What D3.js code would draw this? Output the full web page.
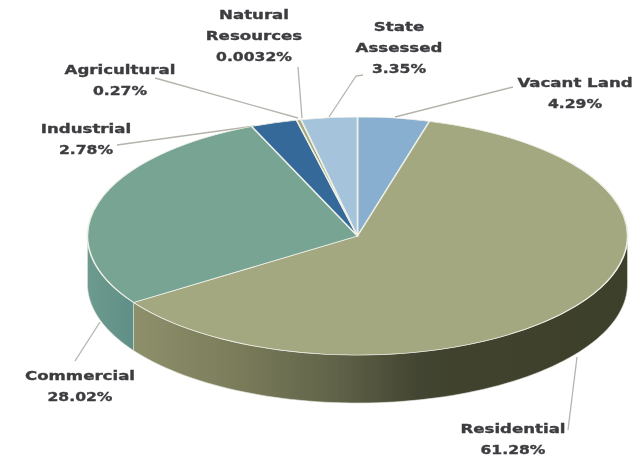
<!DOCTYPE html>
<html><head><meta charset="utf-8">
<script src="https://cdn.jsdelivr.net/npm/d3@7/dist/d3.min.js"></script>
<style>html,body{margin:0;padding:0;background:#fff}svg{display:block}</style>
</head><body><svg id="c" width="635" height="459"></svg>
<script>
// Data
const categories = ["Vacant Land","Residential","Commercial","Industrial","Agricultural","Natural Resources","State Assessed"];
const shares = [4.29,61.28,28.02,2.78,0.27,0.0032,3.35];
const shareLabels = ["4.29%","61.28%","28.02%","2.78%","0.27%","0.0032%","3.35%"];
const labelLines = [["Vacant Land"],["Residential"],["Commercial"],["Industrial"],["Agricultural"],["Natural","Resources"],["State","Assessed"]];
const topColors = ["#88aed0","#a3a880","#78a494","#35699a","#a3a880","#8a8c70","#a5c4dc"];

// Layout (separate from data)
const W=635,H=459,cx=357.5,cy=236,rx=270,ry=119,depth=48;
const labelX=[575,513,80,86,120,254,399];
const labelY=[83,429,376,129,70,15,27];
const lineStep=21;
const leaders=[
 [[513,87],[395,117]],
 [[568,430],[577,357]],
 [[75,361],[100,322]],
 [[117,145],[255,126]],
 [[155,78],[298,118]],
 [[298,67],[302,118]],
 [[363,75],[356,76],[329,117]]
];

const svg=d3.select("#c");
const defs=svg.append("defs");
defs.append("filter").attr("id","soft").attr("filterUnits","userSpaceOnUse")
  .attr("x",0).attr("y",0).attr("width",W).attr("height",H)
  .append("feGaussianBlur").attr("stdDeviation",0.7);
defs.append("filter").attr("id","softText").attr("filterUnits","userSpaceOnUse")
  .attr("x",0).attr("y",0).attr("width",W).attr("height",H)
  .append("feGaussianBlur").attr("stdDeviation",0.7);

const g1=defs.append("linearGradient").attr("id","wallRes").attr("gradientUnits","userSpaceOnUse")
  .attr("x1",134).attr("x2",627).attr("y1",0).attr("y2",0);
[[0,"#8e906c"],[0.2,"#7b7d5b"],[0.4,"#62644a"],[0.58,"#424430"],[1,"#3d3f2a"]].forEach(s=>g1.append("stop").attr("offset",s[0]).attr("stop-color",s[1]));
const g2=defs.append("linearGradient").attr("id","wallCom").attr("gradientUnits","userSpaceOnUse")
  .attr("x1",88).attr("x2",134).attr("y1",0).attr("y2",0);
[[0,"#6d9a8e"],[1,"#5f8f87"]].forEach(s=>g2.append("stop").attr("offset",s[0]).attr("stop-color",s[1]));

const root=svg.append("g").attr("filter","url(#soft)");
const pie=d3.pie().sort(null).value(d=>d)(shares);
const arc=d3.arc().innerRadius(0).outerRadius(rx);
const px=a=>cx+rx*Math.sin(a), py=a=>cy-ry*Math.cos(a);

// Side wall: only the front half of the rim is visible
const wallFill={1:"url(#wallRes)",2:"url(#wallCom)"};
function wallPath(a0,a1){
  const n=80,p=d3.path();
  const t=d3.scaleLinear().domain([0,n]).range([a0,a1]);
  p.moveTo(px(a0),py(a0));
  d3.range(1,n+1).forEach(i=>p.lineTo(px(t(i)),py(t(i))));
  d3.range(n,-1,-1).forEach(i=>p.lineTo(px(t(i)),py(t(i))+depth));
  p.closePath();
  return p.toString();
}
pie.forEach((d,i)=>{
  const a0=Math.max(d.startAngle,Math.PI/2),a1=Math.min(d.endAngle,3*Math.PI/2);
  if(a1<=a0) return;
  root.append("path").attr("d",wallPath(a0,a1)).attr("fill",wallFill[i]||topColors[i])
    .attr("stroke","#dfe3d6").attr("stroke-width",0.6);
});

// Leader lines
const line=d3.line();
root.append("g").selectAll("path").data(leaders).join("path")
  .attr("d",line).attr("fill","none").attr("stroke","#b4b4ac").attr("stroke-width",1.3);

// Top face
root.append("g").attr("transform",`translate(${cx},${cy}) scale(1,${ry/rx})`)
  .selectAll("path").data(pie).join("path")
  .attr("d",arc).attr("fill",(d,i)=>topColors[i])
  .attr("stroke","#eef0e6").attr("stroke-width",1.6).attr("stroke-linejoin","round");

// Labels
const labels=svg.append("g").attr("filter","url(#softText)")
  .attr("font-family","'DejaVu Sans',sans-serif").attr("font-weight",700).attr("font-size",12.5)
  .attr("fill","#3c3c40").attr("stroke","#3c3c40").attr("stroke-width",0.35).attr("text-anchor","middle");
categories.forEach((c,i)=>{
  const names=labelLines[i];
  names.concat([shareLabels[i]]).forEach((t,j)=>{
    const sx=j<names.length?1.33:1.25;
    labels.append("text")
      .attr("transform",`translate(${labelX[i]},${labelY[i]+j*lineStep}) scale(${sx},1)`)
      .attr("dy","0.35em").text(t);
  });
});
</script></body></html>
